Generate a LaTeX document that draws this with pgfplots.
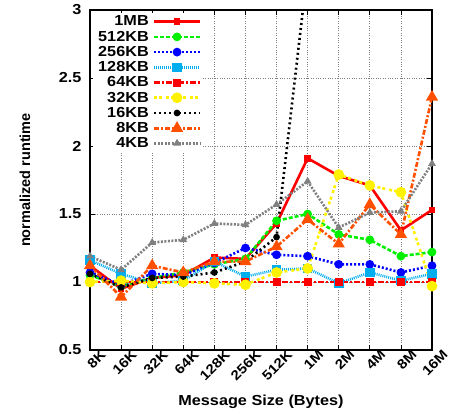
\documentclass[border=0pt]{standalone}
\usepackage{fontspec}
\setmainfont{Liberation Sans}[FakeStretch=1.12]
\newfontfamily\ylabfont{Liberation Sans}
\usepackage{pgfplots}
\pgfplotsset{compat=1.18}
\definecolor{myorange}{RGB}{255,80,0}
\definecolor{mygreen}{RGB}{0,240,0}
\definecolor{mygray}{RGB}{128,128,128}
\begin{document}
\begin{tikzpicture}
\useasboundingbox (0,0) rectangle (450pt,413pt);
\begin{axis}[
  at={(90pt,63pt)}, anchor=south west,
  scale only axis, width=342pt, height=340pt,
  xmin=0, xmax=11, ymin=0.5, ymax=3,
  xtick={0,...,11},
  xticklabels={8K,16K,32K,64K,128K,256K,512K,1M,2M,4M,8M,16M},
  ytick={0.5,1,1.5,2,2.5,3},
  yticklabels={0.5,1,1.5,2,2.5,3},
  tick align=inside, major tick length=5pt,
  tick style={black, line width=0.8pt},
  axis line style={line width=1.5pt},
  grid=major,
  major grid style={mygray, dotted, line width=0.8pt},
  /pgf/number format/assume math mode=true,
  ticklabel style={font=\bfseries\fontsize{14.5}{16}\selectfont},
  xticklabel style={font=\bfseries\fontsize{13.5}{14}\selectfont, rotate=45, anchor=east, xshift=9pt, yshift=-11pt, inner sep=1pt},
  yticklabel style={xshift=-5pt},
  xlabel={Message Size (Bytes)},
  xlabel style={font=\bfseries\fontsize{14.5}{16}\selectfont, at={(axis description cs:0.5,-0.153)}, anchor=center},
  ylabel={normalized runtime},
  ylabel style={font=\ylabfont\bfseries\fontsize{14.5}{16}\selectfont, at={(axis description cs:-0.19,0.5)}, anchor=center},
  legend cell align=right,
  legend plot pos=right,
  legend style={at={(axis description cs:0,1)}, anchor=north west, xshift=3pt, yshift=-3pt,
    draw=none, fill=white, inner sep=1pt, row sep=0pt,
    font=\bfseries\fontsize{14.5}{16}\selectfont,
    nodes={inner ysep=1.8pt, inner xsep=4pt}},
  legend image code/.code={\draw[mark repeat=2,mark phase=2] plot coordinates {(0pt,0pt) (23pt,0pt) (46pt,0pt)};},
  clip=true,
]
\addplot[red, line width=2.6pt, mark=square*, mark size=2pt, mark options={solid}] coordinates {
(0,1.12) (1,0.95) (2,1.03) (3,1.05) (4,1.18) (5,1.17) (6,1.43) (7,1.91) (8,1.78) (9,1.71) (10,1.38) (11,1.53)};
\addlegendentry{1MB}
\addplot[mygreen, line width=2.6pt, dash pattern=on 4pt off 2pt, mark=*, mark size=3pt, mark options={solid}] coordinates {
(0,1.05) (1,0.97) (2,1.03) (3,1.07) (4,1.13) (5,1.17) (6,1.45) (7,1.50) (8,1.35) (9,1.31) (10,1.19) (11,1.22)};
\addlegendentry{512KB}
\addplot[blue, line width=2.6pt, dash pattern=on 2pt off 2pt, mark=*, mark size=3pt, mark options={solid}] coordinates {
(0,1.07) (1,0.98) (2,1.06) (3,1.05) (4,1.14) (5,1.25) (6,1.20) (7,1.19) (8,1.13) (9,1.13) (10,1.07) (11,1.12)};
\addlegendentry{256KB}
\addplot[cyan, line width=2.6pt, dash pattern=on 1pt off 1pt, mark=square*, mark size=3.5pt, mark options={solid}] coordinates {
(0,1.16) (1,1.06) (2,0.99) (3,1.01) (4,1.15) (5,1.04) (6,1.09) (7,1.10) (8,0.99) (9,1.07) (10,1.01) (11,1.06)};
\addlegendentry{128KB}
\addplot[red, line width=2.6pt, dash pattern=on 6pt off 2pt on 2pt off 2pt, mark=square*, mark size=2.7pt, mark options={solid}] coordinates {
(0,1.0) (1,1.0) (2,1.0) (3,1.0) (4,1.0) (5,1.0) (6,1.0) (7,1.0) (8,1.0) (9,1.0) (10,1.0) (11,1.0)};
\addlegendentry{64KB}
\addplot[yellow, line width=2.6pt, dash pattern=on 3pt off 2pt on 3pt off 4pt, mark=*, mark size=4pt, mark options={solid}] coordinates {
(0,1.0) (1,1.01) (2,0.99) (3,1.0) (4,0.99) (5,0.98) (6,1.07) (7,1.10) (8,1.79) (9,1.71) (10,1.66) (11,0.97)};
\addlegendentry{32KB}
\addplot[black, line width=2.6pt, dash pattern=on 2pt off 3pt, mark=*, mark size=2pt, mark options={solid}] coordinates {
(0,1.06) (1,0.96) (2,1.03) (3,1.04) (4,1.07) (5,1.15) (6,1.33) (7,3.3) (8,3.5) (9,3.6) (10,3.7) (11,3.8)};
\addlegendentry{16KB}
\addplot[myorange, line width=2.6pt, dash pattern=on 5pt off 2pt on 2pt off 2pt, mark=triangle*, mark size=4.5pt, mark options={solid}] coordinates {
(0,1.12) (1,0.89) (2,1.12) (3,1.07) (4,1.15) (5,1.15) (6,1.26) (7,1.46) (8,1.28) (9,1.57) (10,1.35) (11,2.36)};
\addlegendentry{8KB}
\addplot[mygray, line width=2.6pt, dash pattern=on 2pt off 1.5pt, mark=triangle*, mark size=2pt, mark options={solid}] coordinates {
(0,1.19) (1,1.09) (2,1.29) (3,1.31) (4,1.43) (5,1.42) (6,1.57) (7,1.74) (8,1.40) (9,1.51) (10,1.52) (11,1.87)};
\addlegendentry{4KB}
\end{axis}
\end{tikzpicture}
\end{document}
